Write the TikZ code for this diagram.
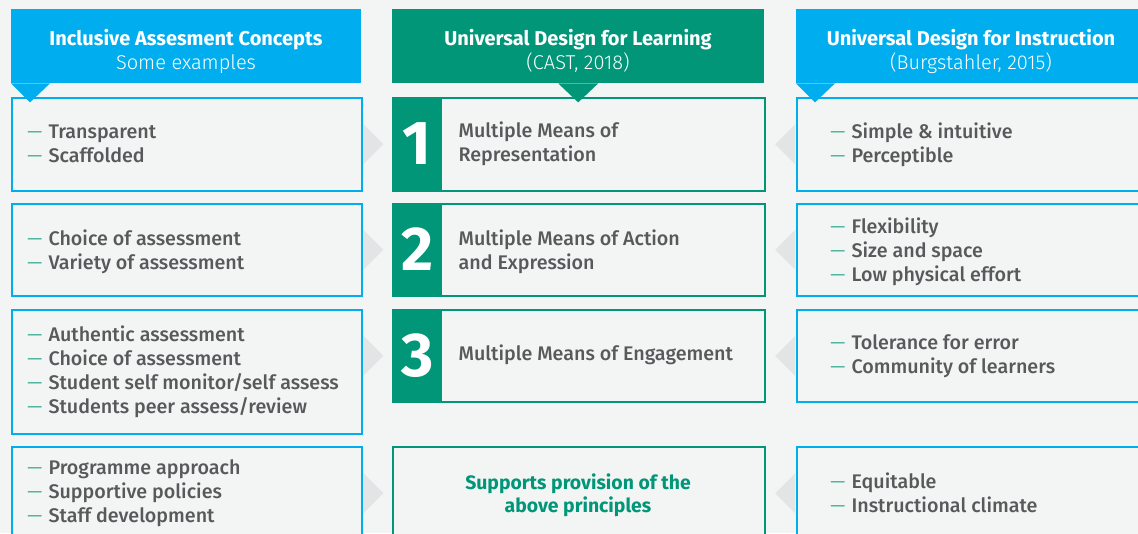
\documentclass[tikz,border=0pt]{standalone}
\usepackage{fontspec}
\setmainfont{Fira Sans}
\newfontfamily\medfont{Fira Sans Medium}
\newfontfamily\lightfont{Fira Sans Light}
\definecolor{bg}{HTML}{F3F4F4}
\definecolor{ublue}{HTML}{00AEEF}
\definecolor{ugreen}{HTML}{009677}
\definecolor{chevc}{HTML}{E3E4E6}
\definecolor{txt}{HTML}{58595B}
\begin{document}
\begin{tikzpicture}[x=1pt,y=-1pt,
  lbox/.style={draw=ublue, line width=1.6pt, fill=bg, minimum width=350pt, anchor=north west, inner sep=0pt},
  rbox/.style={draw=ublue, line width=1.6pt, fill=bg, minimum width=360pt, anchor=north west, inner sep=0pt},
  mbox/.style={draw=ugreen, line width=1.6pt, fill=bg, minimum width=372pt, anchor=north west, inner sep=0pt},
  hbox/.style={minimum height=74pt, anchor=north west, inner sep=0pt},
  numbox/.style={fill=ugreen, minimum width=50pt, anchor=north west, inner sep=0pt},
  num/.style={text=white, inner sep=0pt, font=\bfseries\fontsize{62}{62}\selectfont},
  items/.style={anchor=west, align=left, inner sep=0pt, text=txt, font=\medfont\fontsize{19.7}{24}\selectfont},
  htitle/.style={align=center, inner sep=0pt, text=white, font=\fontsize{20}{24}\selectfont},
  suptext/.style={align=center, inner sep=0pt, text=ugreen, font=\bfseries\fontsize{19.4}{23}\selectfont},
  chev/.style={fill=chevc},
  ptr/.style={fill=#1}
]
\fill[bg] (0,0) rectangle (1138,533);
\useasboundingbox (0,0) rectangle (1138,533);
\newcommand{\itm}{\textcolor{ugreen}{\lightfont —}\hspace{0.3em}}

% headers
\node[hbox, fill=ublue, minimum width=350pt] (hL) at (11,9) {};
\node[hbox, fill=ugreen, minimum width=372pt] (hM) at (392,9) {};
\node[hbox, fill=ublue, minimum width=360pt] (hR) at (796,9) {};
\node[htitle] (hLt) at (186,51) {\textbf{Inclusive Assesment Concepts}\\{\lightfont Some examples}};
\node[htitle] (hMt) at (578,51) {\textbf{Universal Design for Learning}\\{\lightfont (CAST, 2018)}};
\node[htitle] (hRt) at (971,51) {\textbf{Universal Design for Instruction}\\{\lightfont (Burgstahler, 2015)}};

% left boxes
\node[lbox, minimum height=93pt] (L1) at (11,97) {};
\node[lbox, minimum height=92pt] (L2) at (11,203) {};
\node[lbox, minimum height=124pt] (L3) at (11,309) {};
\node[lbox, minimum height=93pt] (L4) at (11,446) {};
% middle boxes
\node[mbox, minimum height=93pt] (M1) at (392,97) {};
\node[mbox, minimum height=92pt] (M2) at (392,203) {};
\node[mbox, minimum height=92pt] (M3) at (392,309) {};
\node[mbox, minimum height=93pt] (M4) at (392,446) {};
% right boxes
\node[rbox, minimum height=93pt] (R1) at (796,97) {};
\node[rbox, minimum height=92pt] (R2) at (796,203) {};
\node[rbox, minimum height=92pt] (R3) at (796,309) {};
\node[rbox, minimum height=93pt] (R4) at (796,446) {};

% number boxes
\node[numbox, minimum height=93pt] (N1) at (M1.north west) {};
\node[numbox, minimum height=92pt] (N2) at (M2.north west) {};
\node[numbox, minimum height=92pt] (N3) at (M3.north west) {};
\node[num] (N1t) at (N1.center) {1};
\node[num] (N2t) at (N2.center) {2};
\node[num] (N3t) at (N3.center) {3};

% pointers
\fill[ptr=ublue] (hL.south west) -- ++(39,0) -- ++(-20,19) -- cycle;
\fill[ptr=ugreen] ([xshift=-20pt]hM.south) -- ++(40,0) -- ++(-20,19) -- cycle;
\fill[ptr=ublue] (hR.south west) -- ++(39,0) -- ++(-20,19) -- cycle;

% chevrons
\foreach \i in {1,2,3,4}{
  \fill[chev] ([xshift=0.8pt]L\i.east |- M\i.center) ++(0,-20) -- ++(20,20) -- ++(-20,20) -- cycle;
  \fill[chev] ([xshift=-0.8pt]R\i.west |- M\i.center) ++(0,-20) -- ++(-20,20) -- ++(20,20) -- cycle;
}

% left texts
\node[items] (L1t) at ([xshift=16pt]L1.west) {\itm Transparent\\\itm Scaffolded};
\node[items] (L2t) at ([xshift=16pt,yshift=-2pt]L2.west) {\itm Choice of assessment\\\itm Variety of assessment};
\node[items] (L3t) at ([xshift=16pt]L3.west) {\itm Authentic assessment\\\itm Choice of assessment\\\itm Student self monitor/self assess\\\itm Students peer assess/review};
\node[items] (L4t) at ([xshift=16pt]L4.west) {\itm Programme approach\\\itm Supportive policies\\\itm Staff development};

% middle texts
\node[items] (M1t) at ([xshift=16pt]N1.east) {Multiple Means of\\Representation};
\node[items] (M2t) at ([xshift=16pt,yshift=-3pt]N2.east) {Multiple Means of Action\\and Expression};
\node[items] (M3t) at ([xshift=16pt]N3.east) {Multiple Means of Engagement};
\node[suptext] (M4t) at (578,495) {Supports provision of the\\above principles};

% right texts
\node[items] (R1t) at ([xshift=34pt]R1.west) {\itm Simple \& intuitive\\\itm Perceptible};
\node[items] (R2t) at ([xshift=34pt,yshift=-2pt]R2.west) {\itm Flexibility\\\itm Size and space\\\itm Low physical effort};
\node[items] (R3t) at ([xshift=34pt]R3.west) {\itm Tolerance for error\\\itm Community of learners};
\node[items] (R4t) at ([xshift=34pt]R4.west |- 0,493) {\itm Equitable\\\itm Instructional climate};
\end{tikzpicture}
\end{document}
